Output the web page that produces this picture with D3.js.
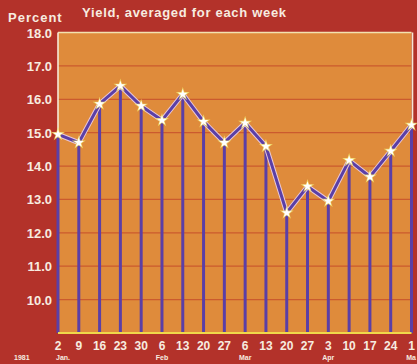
<!DOCTYPE html>
<html>
<head>
<meta charset="utf-8">
<script src="https://cdn.jsdelivr.net/npm/d3@7"></script>
<style>
  html, body { margin: 0; padding: 0; background: #b3322a; }
  svg { display: block; }
  text { font-family: "Liberation Sans", Arial, sans-serif; font-weight: bold; fill: #f7ece0; }
</style>
</head>
<body>
<svg id="chart" width="417" height="364"></svg>
<script>
// Weekly average yield, 1981
const weeks = ["2", "9", "16", "23", "30", "6", "13", "20", "27", "6", "13", "20", "27", "3", "10", "17", "24", "1"];
const yieldPct = [14.95, 14.7, 15.86, 16.4, 15.8, 15.37, 16.15, 15.33, 14.7, 15.29, 14.59, 12.6, 13.39, 12.95, 14.17, 13.68, 14.45, 15.23];
const yTicks = [10, 11, 12, 13, 14, 15, 16, 17, 18];
const monthLabels = [
  { idx: 0, text: "Jan.", dx: 5 },
  { idx: 5, text: "Feb", dx: 0 },
  { idx: 9, text: "Mar", dx: 0 },
  { idx: 13, text: "Apr", dx: 0 }
];

const svg = d3.select("#chart");
const mLeft = 58, mRight = 411.5, mTop = 32.5, mBottom = 333;

const x = d3.scalePoint().domain(d3.range(weeks.length)).range([mLeft, mRight]);
const y = d3.scaleLinear().domain([9, 18]).range([mBottom, mTop]);

// plot panel
svg.append("rect")
  .attr("x", mLeft).attr("y", mTop)
  .attr("width", mRight - mLeft).attr("height", mBottom - mTop)
  .attr("fill", "#df8b3b");

// horizontal grid
svg.append("g").selectAll("line")
  .data(yTicks.slice(0, -1))
  .join("line")
  .attr("x1", mLeft).attr("x2", mRight)
  .attr("y1", d => y(d)).attr("y2", d => y(d))
  .attr("stroke", "#cb5a2e").attr("stroke-width", 1.3);

// panel borders
svg.append("line").attr("x1", mLeft).attr("x2", mRight).attr("y1", mTop).attr("y2", mTop)
  .attr("stroke", "#f3e2b0").attr("stroke-width", 1.6);
svg.append("line").attr("x1", mLeft).attr("x2", mLeft).attr("y1", mTop).attr("y2", mBottom)
  .attr("stroke", "#f5ead8").attr("stroke-width", 1.6);
svg.append("line").attr("x1", mRight + 1).attr("x2", mRight + 1).attr("y1", mTop).attr("y2", y(yieldPct[yieldPct.length - 1]))
  .attr("stroke", "#f3e6d6").attr("stroke-width", 1.6);

// stems
svg.append("g").selectAll("line")
  .data(yieldPct)
  .join("line")
  .attr("x1", (d, i) => x(i)).attr("x2", (d, i) => x(i))
  .attr("y1", d => y(d)).attr("y2", mBottom)
  .attr("stroke", "#5b3fa6").attr("stroke-width", 3);

// baseline
svg.append("line").attr("x1", mLeft).attr("x2", mRight).attr("y1", mBottom).attr("y2", mBottom)
  .attr("stroke", "#f0d84a").attr("stroke-width", 2.2);

// connecting line with light halo
const line = d3.line().x((d, i) => x(i)).y(d => y(d));
svg.append("path").datum(yieldPct).attr("d", line)
  .attr("fill", "none").attr("stroke", "#e9c8d8").attr("stroke-width", 5).attr("stroke-linejoin", "round");
svg.append("path").datum(yieldPct).attr("d", line)
  .attr("fill", "none").attr("stroke", "#5b3fa6").attr("stroke-width", 3).attr("stroke-linejoin", "round");

// star markers
const star = d3.symbol().type(d3.symbolStar);
const marks = svg.append("g").selectAll("g").data(yieldPct).join("g")
  .attr("transform", (d, i) => `translate(${x(i)},${y(d)})`);
marks.append("path").attr("d", star.size(60)()).attr("fill", "#f3e56a").attr("opacity", 0.8);
marks.append("path").attr("d", star.size(30)()).attr("fill", "#ffffff");

// y tick labels
svg.append("g").selectAll("text")
  .data(yTicks)
  .join("text")
  .attr("x", 52).attr("y", d => y(d) + 5)
  .attr("text-anchor", "end").attr("font-size", 13)
  .text(d => d.toFixed(1));

// x tick labels
svg.append("g").selectAll("text")
  .data(weeks)
  .join("text")
  .attr("x", (d, i) => x(i)).attr("y", 350)
  .attr("text-anchor", "middle").attr("font-size", 12)
  .text(d => d);

// month labels
svg.append("text").attr("x", 14).attr("y", 360).attr("font-size", 7).text("1981");
svg.append("g").selectAll("text")
  .data(monthLabels)
  .join("text")
  .attr("x", d => x(d.idx) + d.dx).attr("y", 360)
  .attr("text-anchor", "middle").attr("font-size", 7)
  .text(d => d.text);
svg.append("text").attr("x", 416).attr("y", 360).attr("text-anchor", "end")
  .attr("font-size", 7).text("Ma");

// titles
svg.append("text").attr("x", 8).attr("y", 22).attr("font-size", 13)
  .attr("letter-spacing", 1).text("Percent");
svg.append("text").attr("x", 82).attr("y", 17).attr("font-size", 13)
  .attr("letter-spacing", 0.7).text("Yield,  averaged for each week");
</script>
</body>
</html>
